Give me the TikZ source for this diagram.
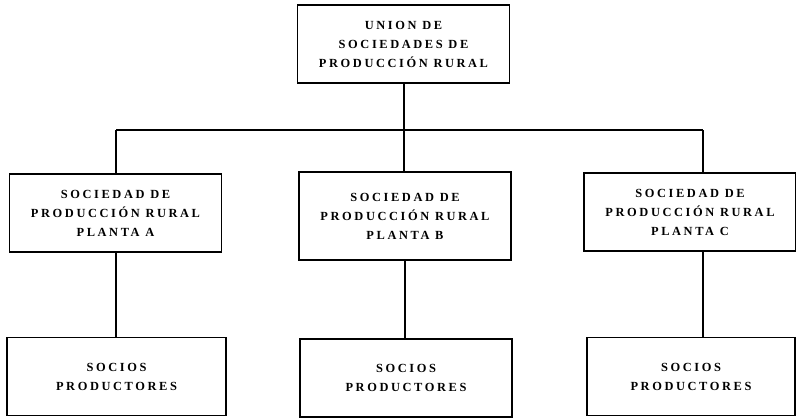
\documentclass[tikz,border=0pt]{standalone}
\usepackage{fontspec}
\usepackage{tikz}
\setmainfont{Liberation Serif}[BoldFont = {Liberation Serif Bold}, LetterSpace = 21]
\usetikzlibrary{positioning}
\tikzset{unit/.style = {draw, line width = 1.3pt, align = center, inner sep = 0,
    font = \bfseries\fontsize{12.4}{19}\selectfont,
    minimum width = 212pt, minimum height = 78pt}}
\tikzset{link/.style = {line width = 1.3pt}}

\begin{document}
\begin{tikzpicture}[x = 1pt, y = -1pt]
    \useasboundingbox (0, 0) rectangle (796, 418);

    \node [unit] (union) at (403.5, 44) {UNION DE\\SOCIEDADES DE\\PRODUCCIÓN RURAL};

    \node [unit] (plantaA) at (115.5, 213) {SOCIEDAD DE\\PRODUCCIÓN RURAL\\PLANTA A};
    \node [unit, minimum height = 88pt] (plantaB) at (405, 216) {SOCIEDAD DE\\PRODUCCIÓN RURAL\\PLANTA B};
    \node [unit] (plantaC) at (690, 212) {SOCIEDAD DE\\PRODUCCIÓN RURAL\\PLANTA C};

    \node [unit, minimum width = 219pt] (sociosA) at (116.5, 376.5) {SOCIOS\\PRODUCTORES};
    \node [unit] (sociosB) at (406, 378) {SOCIOS\\PRODUCTORES};
    \node [unit, minimum width = 208pt] (sociosC) at (691, 376.5) {SOCIOS\\PRODUCTORES};

    \coordinate (bus) at (404, 130);
    \coordinate (busA) at (116, 130);
    \coordinate (busC) at (703, 130);

    \draw [link] (union.south -| bus) -- (bus);
    \draw [link] (busA) -- (busC);
    \draw [link] (busA) -- (busA |- plantaA.north);
    \draw [link] (bus) -- (bus |- plantaB.north);
    \draw [link] (busC) -- (busC |- plantaC.north);

    \draw [link] (plantaA.south -| busA) -- (busA |- sociosA.north);
    \draw [link] (plantaB.south) -- (plantaB.south |- sociosB.north);
    \draw [link] (plantaC.south -| busC) -- (busC |- sociosC.north);
\end{tikzpicture}
\end{document}
